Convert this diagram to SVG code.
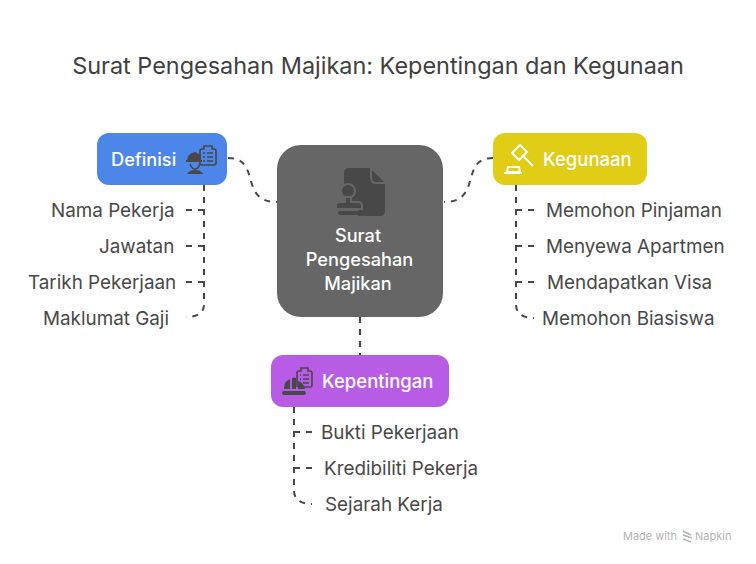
<svg xmlns="http://www.w3.org/2000/svg" width="756" height="564" viewBox="0 0 756 564">
<style>
text{font-family:Inter,"Liberation Sans",sans-serif}
.t{font-size:23.45px;fill:#404040}
.l{font-size:18.85px;fill:#484848}
.h{font-size:18.5px;fill:#fff;font-weight:500}
.c{font-size:18.2px;fill:#fff;font-weight:500;text-anchor:middle}
.d{fill:none;stroke:#484848;stroke-width:2;stroke-dasharray:6 6}
.i{fill:#484848}
.o{fill:none;stroke:#484848;stroke-width:1.6}
.g{fill:none;stroke:#484848;stroke-width:1.3}
.w{fill:none;stroke:#fff;stroke-width:2}
</style>
<rect width="756" height="564" fill="#fff"/>
<text class="t" x="378" y="73.500" text-anchor="middle">Surat Pengesahan Majikan: Kepentingan dan Kegunaan</text>
<g id="connectors">
<path class="d" d="M228 158C262 158 238 202 277 202"/>
<path class="d" d="M493 158C459 158 483 202 444 202"/>
<path class="d" d="M360 317V355"/>
<path class="d" d="M204 185V304Q204 317 186 317"/>
<path class="d" d="M186 210H204M186 246H204M186 282H204"/>
<path class="d" d="M516 185V304Q516 318 534 318"/>
<path class="d" d="M516 210H534M516 246H534M516 282H534"/>
<path class="d" d="M294 407V490Q294 504 312 504"/>
<path class="d" d="M294 432H312M294 468H312"/>
</g>
<g id="center">
<rect x="277" y="145" width="166" height="172" rx="24" fill="#666"/>
<path d="M349 168H370L385 183V211Q385 216 380 216H358V205H349Q344 205 344 200V173Q344 168 349 168Z" fill="#484848"/>
<path d="M371 168V178Q371 183 376 183H385" fill="none" stroke="#666" stroke-width="2"/>
<circle cx="348" cy="191" r="7" fill="#484848" stroke="#666" stroke-width="2"/>
<path d="M345 197H351V202H358Q362 202 362 206V209H336V206Q336 202 340 202H345Z" fill="#484848" stroke="#666" stroke-width="2"/>
<rect x="338" y="211" width="22" height="4" rx="2" fill="#484848"/>
<text class="c" x="358" y="241.500">Surat</text>
<text class="c" x="359.500" y="265.500">Pengesahan</text>
<text class="c" x="358" y="289.500">Majikan</text>
</g>
<g id="definisi">
<rect x="97" y="133" width="130" height="52" rx="12" fill="#4b86e8"/>
<text class="h" x="111" y="165.500" style="font-size:18.2px">Definisi</text>
<path class="o" d="M204 149H202Q200 149 200 151V163Q200 165 202 165H214Q216 165 216 163V151Q216 149 214 149H212V146H204Z"/>
<path class="g" d="M203 153H205M207 153H213M203 157H205M207 157H213M203 161H205M207 161H213"/>
<path class="i" d="M187 160Q188 153 195 152L201 155V160Z"/><rect x="186" y="160" width="16" height="2" class="i"/>
<path class="o" d="M190 164Q192 169 195 169Q198 169 200 164"/>
<path class="i" d="M187 174Q189 170 195 170Q201 170 203 174Z"/>
</g>
<g id="kegunaan">
<rect x="493" y="133" width="154" height="52" rx="12" fill="#e1cd15"/>
<text class="h" x="543" y="165.500">Kegunaan</text>
<path class="w" d="M512 153L520 145L527 152L519 160ZM522 155L533 166"/>
<path class="w" d="M508 167H519L520 172H507ZM504 173H522" stroke-width="1.6"/>
</g>
<g id="kepentingan">
<rect x="271" y="355" width="178" height="52" rx="12" fill="#b95ce5"/>
<text class="h" x="322" y="387.500">Kepentingan</text>
<path class="o" d="M301 371H299Q297 371 297 373V385Q297 387 299 387H310Q312 387 312 385V373Q312 371 310 371H308V368H301Z"/>
<path class="g" d="M300 375H301M303 375H309M300 379H301M303 379H309M300 383H301M303 383H309"/>
<path class="i" d="M284 389Q284 381 290 379V389ZM292 378Q294 377 296 378V389H292ZM298 381Q304 383 305 389H298Z"/>
<rect x="282" y="391" width="24" height="4" rx="2" class="i"/>
</g>
<g id="labels">
<text class="l" x="51" y="216.500">Nama Pekerja</text>
<text class="l" x="99" y="252.500">Jawatan</text>
<text class="l" x="28" y="288.500">Tarikh Pekerjaan</text>
<text class="l" x="43" y="324.500">Maklumat Gaji</text>
<text class="l" x="546" y="216.500">Memohon Pinjaman</text>
<text class="l" x="546" y="252.500">Menyewa Apartmen</text>
<text class="l" x="547" y="288.500">Mendapatkan Visa</text>
<text class="l" x="542" y="324.500">Memohon Biasiswa</text>
<text class="l" x="321" y="438.500">Bukti Pekerjaan</text>
<text class="l" x="324" y="474.500">Kredibiliti Pekerja</text>
<text class="l" x="325" y="510.500">Sejarah Kerja</text>
</g>
<g id="watermark">
<text x="623" y="540" font-size="11" fill="#b4b4b4">Made with</text>
<path d="M683 531L691 535M683 535L692 538M683 539L691 542" fill="none" stroke="#b4b4b4" stroke-width="1.6"/>
<text x="695" y="540" font-size="11" fill="#b4b4b4">Napkin</text>
</g>
</svg>
